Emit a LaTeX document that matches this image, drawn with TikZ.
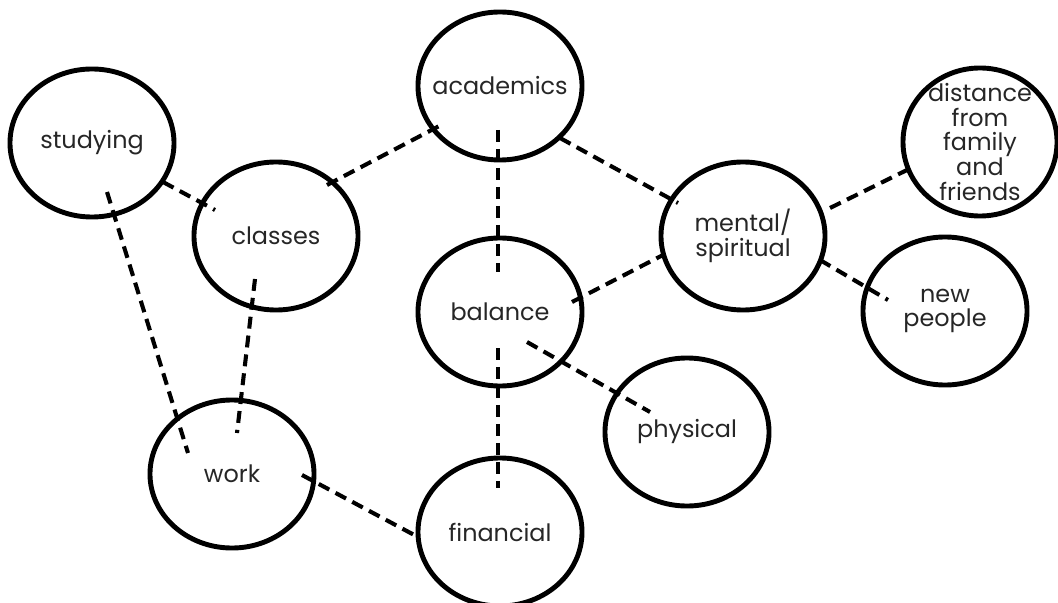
\documentclass[tikz,border=0pt]{standalone}
\usepackage{fontspec}
\setmainfont{Poppins}
\usetikzlibrary{shapes.geometric,calc}
\definecolor{ink}{HTML}{262626}
\tikzstyle{bubble} = [ellipse, draw=black, line width=3.5pt, minimum width=4.1cm, minimum height=3.7cm, inner sep=-12pt, text=ink, align=center, font=\fontsize{17}{17.5}\selectfont]
\tikzstyle{link} = [line width=2.9pt, dash pattern=on 8.5pt off 5pt]

\begin{document}
\begin{tikzpicture}[x=0.025cm, y=-0.025cm]
\useasboundingbox (0,0) rectangle (1058,603);
\node (studying) [bubble] at (92,143) {studying};
\node (classes) [bubble] at (276,236) {classes};
\node (academics) [bubble] at (500,86) {academics};
\node (balance) [bubble] at (500,312) {balance};
\node (mental) [bubble] at (743,236) {mental/\\spiritual};
\node (distance) [bubble, minimum width=3.85cm] at (980,142) {distance\\from\\family\\and\\friends};
\node (newpeople) [bubble] at (945,311) {new\\people};
\node (physical) [bubble] at (687,432) {physical};
\node (work) [bubble] at (232,474) {work};
\node (financial) [bubble] at (500,532) {financial};

% links, ends sit inside the bubbles
\draw [link] ($(studying)+(71,39)$) -- ($(classes)+(-61,-26)$);
\draw [link] ($(studying)+(15,49)$) -- ($(work)+(-44,-21)$);
\draw [link] ($(classes)+(-21,43)$) -- ($(work)+(5,-41)$);
\draw [link] ($(classes)+(51,-51)$) -- ($(academics)+(-57,38)$);
\draw [link] ($(academics)+(-2,44)$) -- ($(balance)+(-2,-40)$);
\draw [link] ($(academics)+(60,52)$) -- ($(mental)+(-65,-33)$);
\draw [link] ($(balance)+(72,-10)$) -- ($(mental)+(-80,19)$);
\draw [link] ($(balance)+(27,30)$) -- ($(physical)+(-37,-20)$);
\draw [link] ($(balance)+(-2,36)$) -- ($(financial)+(-2,-44)$);
\draw [link] ($(mental)+(87,-28)$) -- ($(distance)+(-73,28)$);
\draw [link] ($(mental)+(77,24)$) -- ($(newpeople)+(-57,-11)$);
\draw [link] ($(work)+(70,1)$) -- ($(financial)+(-82,5)$);
\end{tikzpicture}
\end{document}
